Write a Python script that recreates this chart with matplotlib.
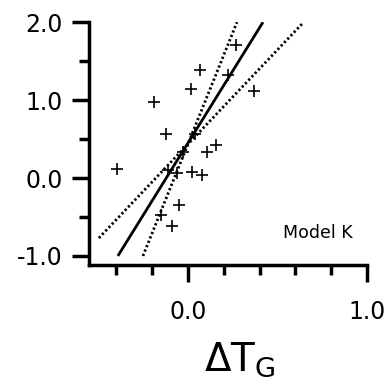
import matplotlib
matplotlib.use("Agg")
import matplotlib.pyplot as plt
import numpy as np

# scatter of observations
dtg = [-0.397, -0.188, -0.123, 0.069, 0.015, 0.268, 0.225, 0.369, 0.037,
       0.108, 0.156, -0.110, -0.060, 0.024, 0.081, -0.051, -0.151, -0.089, -0.030]
resp = [0.12, 0.98, 0.56, 1.39, 1.14, 1.71, 1.32, 1.12, 0.57,
        0.34, 0.42, 0.10, 0.06, 0.08, 0.04, -0.35, -0.47, -0.61, 0.34]

# fitted line and confidence bounds (endpoints)
fit_x = [-0.391, 0.419]
fit_y = [-1.0, 2.0]
upper_x = [-0.251, 0.274]
upper_y = [-1.0, 2.0]
lower_x = [-0.497, 0.642]
lower_y = [-0.77, 1.99]

fig = plt.figure(figsize=(3.88, 3.89), dpi=100)
ax = fig.add_axes([0.229, 0.319, 0.717, 0.624])

ax.plot(fit_x, fit_y, color="black", lw=2.0, solid_capstyle="butt")
ax.plot(upper_x, upper_y, color="black", lw=2.0, linestyle=(0, (0.8, 0.9)))
ax.plot(lower_x, lower_y, color="black", lw=2.0, linestyle=(0, (0.8, 0.9)))
ax.plot(dtg, resp, linestyle="none", marker="+", markersize=9,
        markeredgewidth=1.2, color="black")

ax.set_xlim(-0.553, 1.0)
ax.set_ylim(-1.115, 2.0)

ax.spines["top"].set_visible(False)
ax.spines["right"].set_visible(False)
for s in ("left", "bottom"):
    ax.spines[s].set_linewidth(2.5)

ax.set_xticks([0.0, 1.0])
ax.set_xticklabels(["0.0", "1.0"])
ax.set_xticks([-0.4, -0.2, 0.2, 0.4, 0.6, 0.8], minor=True)
ax.set_yticks([-1.0, 0.0, 1.0, 2.0])
ax.set_yticklabels(["-1.0", "0.0", "1.0", "2.0"])
ax.set_yticks([-0.5, 0.5, 1.5], minor=True)

ax.tick_params(axis="x", which="major", length=12, width=2.5, pad=13, labelsize=17)
ax.tick_params(axis="x", which="minor", length=7.5, width=2.5)
ax.tick_params(axis="y", which="major", length=12, width=2.5, pad=7, labelsize=17)
ax.tick_params(axis="y", which="minor", length=7, width=2.5)

ax.text(0.947, 0.11, "Model K", transform=ax.transAxes, ha="right",
        va="baseline", fontsize=12.5)

fig.text(240 / 388, 1 - 371 / 389, r"$\mathregular{\Delta T_G}$", ha="center",
         va="baseline", fontsize=28)

fig.savefig("out.png", dpi=100)
